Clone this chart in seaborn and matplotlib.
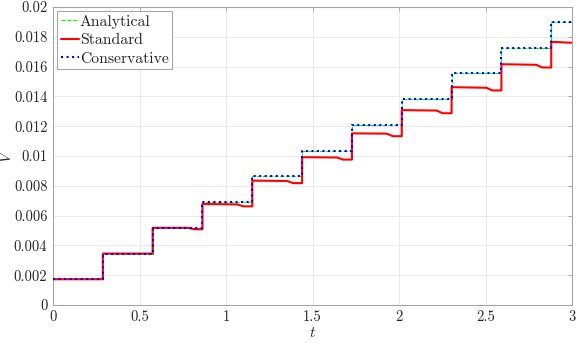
import matplotlib
matplotlib.use("Agg")
import matplotlib.pyplot as plt
import seaborn as sns
import pandas as pd

# ---- data ----
jump_t = [0.0, 0.288, 0.576, 0.864, 1.152, 1.44, 1.728, 2.016, 2.304, 2.592, 2.88, 3.0]
analytical_v = [0.001727, 0.003454, 0.005181, 0.006908, 0.008635, 0.010362,
                0.012089, 0.013816, 0.015543, 0.017270, 0.018997, 0.018997]
conservative_v = [0.001727, 0.003454, 0.005181, 0.006908, 0.008635, 0.010362,
                  0.012089, 0.013816, 0.015543, 0.017270, 0.018997, 0.018997]

standard_t = [0.0, 0.288,
              0.288, 0.576,
              0.576, 0.78, 0.82, 0.864,
              0.864, 1.066, 1.10, 1.152,
              1.152, 1.354, 1.388, 1.44,
              1.44, 1.642, 1.676, 1.728,
              1.728, 1.930, 1.964, 2.016,
              2.016, 2.218, 2.252, 2.304,
              2.304, 2.506, 2.540, 2.592,
              2.592, 2.794, 2.828, 2.88,
              2.88, 3.0]
standard_v = [0.00173, 0.00173,
              0.00345, 0.00345,
              0.00518, 0.00518, 0.00508, 0.00508,
              0.00678, 0.00675, 0.00662, 0.00662,
              0.00835, 0.00832, 0.00818, 0.00818,
              0.00992, 0.00990, 0.00976, 0.00976,
              0.01152, 0.01150, 0.01133, 0.01133,
              0.01308, 0.01305, 0.01287, 0.01287,
              0.01462, 0.01458, 0.01440, 0.01440,
              0.01616, 0.01612, 0.01594, 0.01594,
              0.01766, 0.01760]

x_ticks = [0, 0.5, 1, 1.5, 2, 2.5, 3]
x_tick_labels = ["0", "0.5", "1", "1.5", "2", "2.5", "3"]
y_ticks = [0, 0.002, 0.004, 0.006, 0.008, 0.01, 0.012, 0.014, 0.016, 0.018, 0.02]
y_tick_labels = ["0", "0.002", "0.004", "0.006", "0.008", "0.01", "0.012",
                 "0.014", "0.016", "0.018", "0.02"]

# ---- style ----
sns.set_style("white")
plt.rcParams["font.family"] = ["cmr10", "DejaVu Serif"]
plt.rcParams["mathtext.fontset"] = "cm"
plt.rcParams["axes.unicode_minus"] = False

fig = plt.figure(figsize=(5.81, 3.43), dpi=100)
ax = fig.add_axes([53/581, 38/343, (572-53)/581, (305-7)/343])

df_a = pd.DataFrame({"t": jump_t, "V": analytical_v})
df_c = pd.DataFrame({"t": jump_t, "V": conservative_v})
df_s = pd.DataFrame({"t": standard_t, "V": standard_v})

sns.lineplot(data=df_a, x="t", y="V", ax=ax, color="#00ff00", linestyle="--",
             linewidth=0.8, drawstyle="steps-post", label="Analytical",
             sort=False, estimator=None, zorder=3)
sns.lineplot(data=df_s, x="t", y="V", ax=ax, color="#ff0000", linestyle="-",
             linewidth=1.5, label="Standard", sort=False, estimator=None, zorder=4)
sns.lineplot(data=df_c, x="t", y="V", ax=ax, color="#0000ff", linestyle=":",
             linewidth=1.5, drawstyle="steps-post", label="Conservative",
             sort=False, estimator=None, zorder=5)

ax.set_xlim(0, 3)
ax.set_ylim(0, 0.02)
ax.set_xticks(x_ticks)
ax.set_xticklabels(x_tick_labels)
ax.set_yticks(y_ticks)
ax.set_yticklabels(y_tick_labels)
ax.tick_params(direction="in", length=3, width=0.6, colors="#a0a0a0",
               labelcolor="#262626", labelsize=10.5, top=True, right=True,
               pad=4)
ax.grid(True, color="#e8e8e8", linewidth=0.6)
ax.set_axisbelow(True)
for s in ax.spines.values():
    s.set_color("#a6a6a6")
    s.set_linewidth(0.8)

ax.set_xlabel("$t$", fontsize=11, labelpad=1, color="#262626")
ax.set_ylabel("$V$", fontsize=11, color="#262626")
ax.yaxis.set_label_coords(-0.075, 0.5)

leg = ax.legend(loc="upper left", fontsize=11.3, handlelength=1.15,
                handletextpad=0.08, labelspacing=0.3, borderpad=0.2,
                borderaxespad=0.28, fancybox=False, framealpha=1,
                edgecolor="#a6a6a6")
leg.get_frame().set_linewidth(0.8)

fig.savefig("out.png", dpi=100)
